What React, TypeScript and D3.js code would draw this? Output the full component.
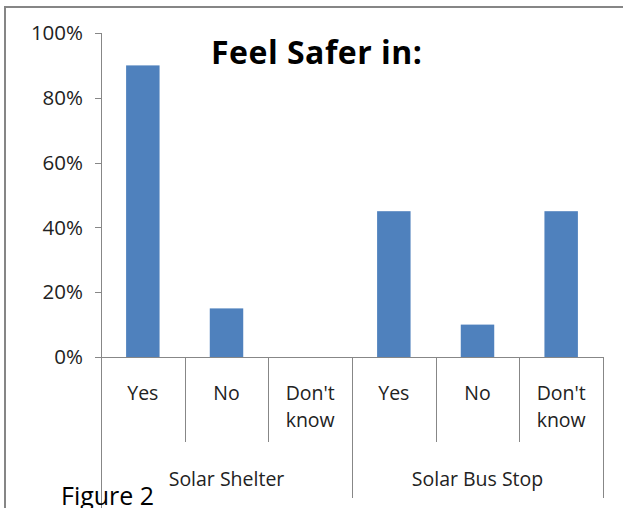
import React from "react";
import * as d3 from "d3";

const groups = ["Solar Shelter", "Solar Bus Stop"];
const answers = ["Yes", "No", "Don't know"];
const shelterValues = [0.9, 0.15, 0];
const busStopValues = [0.45, 0.1, 0.45];
const yTicks = [0, 0.2, 0.4, 0.6, 0.8, 1.0];
const title = "Feel Safer in:";
const caption = "Figure 2";

const W = 623;
const H = 508;
const left = 101;
const right = 603;
const top = 33;
const bottom = 357;
const font = "'Open Sans', 'DejaVu Sans', sans-serif";
const axisColor = "#878787";

export default function App() {
  const rows = [
    ...answers.map((a, i) => ({ key: `g0-${i}`, label: a, value: shelterValues[i] })),
    ...answers.map((a, i) => ({ key: `g1-${i}`, label: a, value: busStopValues[i] })),
  ];
  const x = d3
    .scaleBand<string>()
    .domain(rows.map((r) => r.key))
    .range([left, right])
    .paddingInner(0.6)
    .paddingOuter(0.3);
  const step = x.step();
  const y = d3.scaleLinear().domain([0, 1]).range([bottom, top]);
  const fmt = d3.format(".0%");

  const catBoundaries = d3.range(1, rows.length).filter((i) => i % answers.length !== 0).map((i) => left + i * step);
  const groupBoundaries = d3.range(0, groups.length + 1).map((g) => left + g * answers.length * step);

  return (
    <svg
      width={W}
      height={H}
      style={{ position: "absolute", left: 0, top: 0, background: "#fff" }}
      fontFamily={font}
    >
      <rect x={0} y={0} width={W} height={H} fill="#fff" />
      {/* outer frame */}
      <line x1={4} x2={W} y1={7} y2={7} stroke="#868686" strokeWidth={2} />
      <line x1={5} x2={5} y1={6} y2={H} stroke="#868686" strokeWidth={2} />

      {/* bars */}
      {rows.map((r) => (
        <rect
          key={r.key}
          x={x(r.key)}
          y={y(r.value)}
          width={x.bandwidth()}
          height={bottom - y(r.value)}
          fill="#4F81BD"
        />
      ))}

      {/* y axis */}
      <line x1={left + 0.5} x2={left + 0.5} y1={top} y2={H} stroke={axisColor} strokeWidth={1} />
      {yTicks.map((t) => (
        <g key={t}>
          <line x1={left - 6} x2={left} y1={Math.round(y(t)) + 0.5} y2={Math.round(y(t)) + 0.5} stroke={axisColor} />
          <text x={83} y={y(t)} dy="0.35em" textAnchor="end" fontSize={20.5} fill="#222">
            {fmt(t)}
          </text>
        </g>
      ))}

      {/* x axis */}
      <line x1={left} x2={right} y1={bottom + 0.5} y2={bottom + 0.5} stroke={axisColor} />
      {catBoundaries.map((bx, i) => (
        <line key={`c${i}`} x1={Math.round(bx) + 0.5} x2={Math.round(bx) + 0.5} y1={bottom} y2={442} stroke={axisColor} />
      ))}
      {groupBoundaries.slice(1).map((bx, i) => (
        <line key={`g${i}`} x1={Math.round(bx) + 0.5} x2={Math.round(bx) + 0.5} y1={bottom} y2={498} stroke={axisColor} />
      ))}

      {/* category labels */}
      {rows.map((r) => {
        const cx = (x(r.key) as number) + x.bandwidth() / 2;
        const words = r.label === "Don't know" ? ["Don't", "know"] : [r.label];
        return (
          <text key={`l${r.key}`} x={cx} y={400} textAnchor="middle" fontSize={19.5} fill="#222">
            {words.map((w, i) => (
              <tspan key={i} x={cx} y={400 + i * 27}>
                {w}
              </tspan>
            ))}
          </text>
        );
      })}

      {/* group labels */}
      {groups.map((g, gi) => (
        <text
          key={g}
          x={(groupBoundaries[gi] + groupBoundaries[gi + 1]) / 2}
          y={486}
          textAnchor="middle"
          fontSize={19.5}
          fill="#222"
        >
          {g}
        </text>
      ))}

      {/* title */}
      <text x={211} y={63.5} fontSize={32} fontWeight="bold" letterSpacing={0.5} fill="#000">
        {title}
      </text>

      {/* caption */}
      <text x={61} y={505} fontSize={25} fill="#000">
        {caption}
      </text>
    </svg>
  );
}
